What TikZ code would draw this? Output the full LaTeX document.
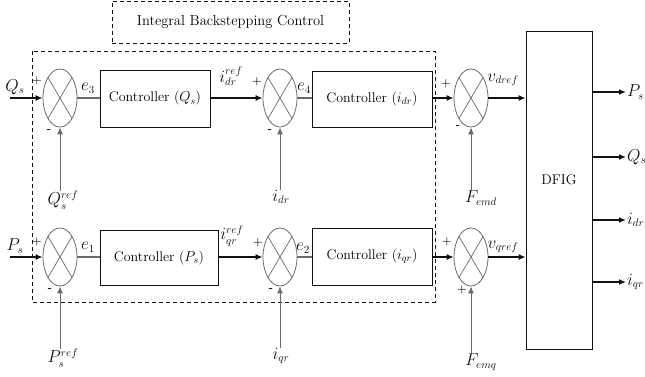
\documentclass[tikz,border=0pt]{standalone}
\usepackage{tikz}
\usetikzlibrary{positioning,shapes.geometric,arrows.meta}
\definecolor{ink}{HTML}{111111}
\definecolor{wire}{HTML}{6A6A6A}

\begin{document}
\begin{tikzpicture}[x=1pt,y=-1pt,
    sumjunction/.style={ellipse,draw=wire,line width=0.8pt,minimum width=34pt,minimum height=58pt,inner sep=0pt,
      path picture={\draw[wire,line width=0.7pt] (path picture bounding box.north west) -- (path picture bounding box.south east)
        (path picture bounding box.north east) -- (path picture bounding box.south west);}},
    ctrlbox/.style={draw=ink,line width=0.8pt,inner sep=0pt,font=\fontsize{14}{16}\selectfont},
    sig/.style={draw=ink,line width=1.3pt,-{Latex[length=7pt,width=6pt]}},
    errline/.style={draw=wire,line width=1.3pt},
    feed/.style={draw=wire,line width=0.9pt,-{Latex[length=7pt,width=6pt]}},
    lab/.style={inner sep=0pt,font=\fontsize{16}{18}\selectfont,text=ink},
    sgn/.style={inner sep=0pt,font=\fontsize{11}{12}\selectfont\bfseries,text=ink}]
  \useasboundingbox (0,0) rectangle (645,376);

  % dashed frames
  \draw[ink,line width=0.8pt,dash pattern=on 4pt off 3pt] (32,51) rectangle (435,302);
  \node[draw=ink,line width=0.8pt,dash pattern=on 4pt off 3pt,minimum width=237pt,minimum height=42pt,
    font=\fontsize{14.5}{16}\selectfont] (ibc) at (230.5,22) {Integral Backstepping Control};

  % d-axis row
  \node[sumjunction] (sq) at (60,98) {};
  \node[ctrlbox,minimum width=110pt,minimum height=57pt] (cq) at (155,98.5) {Controller ($Q_s$)};
  \node[sumjunction] (sidr) at (280,98) {};
  \node[ctrlbox,minimum width=120pt,minimum height=56pt] (cidr) at (372,99) {Controller ($i_{dr}$)};
  \node[sumjunction] (svd) at (471,98) {};

  % q-axis row
  \node[sumjunction] (sp) at (60,257) {};
  \node[ctrlbox,minimum width=118pt,minimum height=55pt] (cp) at (159,257.5) {Controller ($P_s$)};
  \node[sumjunction] (siqr) at (280,257) {};
  \node[ctrlbox,minimum width=120pt,minimum height=57pt] (ciqr) at (372,256.5) {Controller ($i_{qr}$)};
  \node[sumjunction] (svq) at (471,257) {};

  % machine
  \node[draw=ink,line width=0.8pt,minimum width=66pt,minimum height=318pt] (dfig) at (559,190) {};
  \node[font=\fontsize{14}{16}\selectfont] (dfiglab) at (559,180) {DFIG};

  % inputs and signal labels
  \coordinate (qsin) at (10,98);
  \coordinate (psin) at (10,257);
  \node[lab] (qs) at (15,87) {$Q_s$};
  \node[lab] (ps) at (15,246) {$P_s$};
  \node[lab] (e3) at (88,88) {$e_3$};
  \node[lab] (idrref) at (231,76) {$i_{dr}^{ref}$};
  \node[lab] (e4) at (304,88) {$e_4$};
  \node[lab] (vdref) at (503,80) {$v_{dref}$};
  \node[lab] (e1) at (88,247) {$e_1$};
  \node[lab] (iqrref) at (232,236) {$i_{qr}^{ref}$};
  \node[lab] (e2) at (303,248) {$e_2$};
  \node[lab] (vqref) at (503,247) {$v_{qref}$};

  % feedback labels
  \node[lab] (qsref) at (63,200) {$Q_s^{ref}$};
  \node[lab] (idrfb) at (281,197) {$i_{dr}$};
  \node[lab] (femd) at (481,198) {$F_{emd}$};
  \node[lab] (psref) at (63,358) {$P_s^{ref}$};
  \node[lab] (iqrfb) at (281,356) {$i_{qr}$};
  \node[lab] (femq) at (481,362) {$F_{emq}$};

  % signs at the junctions
  \foreach \x/\y/\s [count=\k] in {37/81/+,49/131/-,257/82/+,270/131/-,446/84/+,458/127/-,
      37/242/+,50/290/-,258/243/+,271/290/-,447/242/+,462/290/+}
    \node[sgn] (sign\k) at (\x,\y) {\s};

  % forward paths
  \draw[sig] (qsin) -- (sq.west);
  \draw[errline] (sq.east) -- (sq.east -| cq.west);
  \draw[sig] (cq.east |- sidr.west) -- (sidr.west);
  \draw[errline] (sidr.east) -- (sidr.east -| cidr.west);
  \draw[sig] (cidr.east |- svd.west) -- (svd.west);
  \draw[sig] (svd.east) -- (svd.east -| dfig.west);
  \draw[sig] (psin) -- (sp.west);
  \draw[errline] (sp.east) -- (sp.east -| cp.west);
  \draw[sig] (cp.east |- siqr.west) -- (siqr.west);
  \draw[errline] (siqr.east) -- (siqr.east -| ciqr.west);
  \draw[sig] (ciqr.east |- svq.west) -- (svq.west);
  \draw[sig] (svq.east) -- (svq.east -| dfig.west);

  % feedbacks
  \draw[feed] (sq.south |- qsref.north) -- (sq.south);
  \draw[feed] (sidr.south |- idrfb.north) -- (sidr.south);
  \draw[feed] (svd.south |- femd.north) -- (svd.south);
  \draw[feed] (sp.south |- psref.north) -- (sp.south);
  \draw[feed] (siqr.south |- iqrfb.north) -- (siqr.south);
  \draw[feed] (svq.south |- femq.north) -- (svq.south);

  % outputs
  \foreach \y/\nm/\t in {92/outps/P_s,157/outqs/Q_s,220/outidr/i_{dr},282/outiqr/i_{qr}}{
    \node[lab,anchor=west] (\nm) at (627,\y) {$\t$};
    \draw[sig] (dfig.east |- \nm.west) -- ([xshift=-1pt]\nm.west);}
\end{tikzpicture}
\end{document}
